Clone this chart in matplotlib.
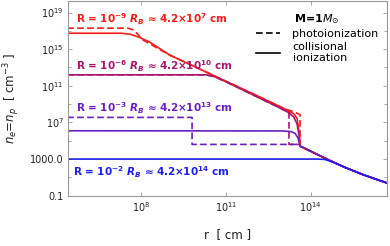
import numpy as np
import matplotlib.pyplot as plt
from matplotlib.lines import Line2D
from matplotlib.ticker import FixedLocator, FixedFormatter, NullFormatter

plt.rcParams['font.family'] = ['DejaVu Sans']
plt.rcParams['mathtext.fontset'] = 'custom'
plt.rcParams['mathtext.rm'] = 'DejaVu Sans'
plt.rcParams['mathtext.it'] = 'DejaVu Sans:italic'
plt.rcParams['mathtext.bf'] = 'DejaVu Sans:bold'
plt.rcParams['mathtext.bfit'] = 'DejaVu Sans:italic:bold'

# colours
c_red = '#f41c1c'
c_mag = '#a8166e'
c_pur = '#6a1fbf'
c_blu = '#1e1ef2'

# common outer tail (log10 r, log10 n)
tail_lr = [13.62, 14.0, 14.6, 15.2, 15.8, 16.3, 16.7]
tail_ln = [4.42, 3.85, 2.95, 2.1, 1.35, 0.8, 0.38]

# R = 1e-9
red_sol_lr = [5.4, 7.3, 7.6, 7.9, 8.3, 9.03, 10.0, 11.0, 12.21, 13.0, 13.4, 13.52, 13.6]
red_sol_ln = [16.74, 16.74, 16.65, 16.35, 15.8, 14.34, 12.95, 11.5, 9.76, 8.6, 7.95, 7.4, 5.6]
red_dash_lr = [5.4, 7.55, 7.75, 7.9, 8.05, 9.03, 10.0, 11.0, 12.21, 13.0, 13.48, 13.62, 13.62]
red_dash_ln = [17.29, 17.29, 17.1, 16.6, 16.05, 14.34, 12.95, 11.5, 9.76, 8.6, 8.05, 7.85, 4.42]

# R = 1e-6
mag_sol_lr = [5.4, 10.3, 10.6, 11.0, 12.0, 12.8, 13.2, 13.4, 13.52, 13.6]
mag_sol_ln = [12.2, 12.2, 12.0, 11.45, 9.95, 8.75, 8.1, 7.6, 6.8, 5.3]
mag_dash_lr = [5.4, 10.3, 10.6, 11.0, 12.0, 12.8, 13.23, 13.23, 13.62]
mag_dash_ln = [12.2, 12.2, 12.0, 11.45, 9.95, 8.75, 8.15, 4.6, 4.6]

# R = 1e-3
pur_sol_lr = [5.4, 13.0, 13.3, 13.45, 13.55]
pur_sol_ln = [6.09, 6.07, 6.0, 5.8, 5.3]
pur_dash_lr = [5.4, 9.81, 9.81, 13.62]
pur_dash_ln = [7.55, 7.55, 4.6, 4.6]

# R = 1e-2
blu_lr = [5.4, 14.2, 14.5, 14.8, 15.2, 15.8, 16.3, 16.7]
blu_ln = [3.0, 3.0, 2.96, 2.63, 2.1, 1.35, 0.8, 0.38]

xticks = [1e8, 1e11, 1e14]
xlabels = ['$10^{8}$', '$10^{11}$', '$10^{14}$']
yticks = [1e-1, 1e3, 1e7, 1e11, 1e15, 1e19]
ylabels = ['0.1', '1000.0', '$10^{7}$', '$10^{11}$', '$10^{15}$', '$10^{19}$']


def p(lr, ln):
    return 10.0 ** np.array(lr), 10.0 ** np.array(ln)


fig = plt.figure(figsize=(3.9, 2.46), dpi=100)
ax = fig.add_axes([68 / 390, 1 - 195.7 / 246, 318.7 / 390, 194.7 / 246])

lw = 1.2
ds = (4, 2)
for lr, ln, col in [(red_sol_lr + tail_lr, red_sol_ln + tail_ln, c_red),
                    (mag_sol_lr + tail_lr, mag_sol_ln + tail_ln, c_mag),
                    (pur_sol_lr + tail_lr, pur_sol_ln + tail_ln, c_pur)]:
    ax.plot(*p(lr, ln), color=col, lw=lw)
for lr, ln, col in [(red_dash_lr + tail_lr, red_dash_ln + tail_ln, c_red),
                    (mag_dash_lr + tail_lr, mag_dash_ln + tail_ln, c_mag),
                    (pur_dash_lr + tail_lr, pur_dash_ln + tail_ln, c_pur)]:
    ax.plot(*p(lr, ln), color=col, lw=lw, ls=(0, ds))
ax.plot(*p(blu_lr, blu_ln), color=c_blu, lw=lw)

ax.set_xscale('log')
ax.set_yscale('log')
ax.set_xlim(10 ** 5.43, 10 ** 16.68)
ax.set_ylim(0.1, 10 ** 20.26)

ax.xaxis.set_major_locator(FixedLocator(xticks))
ax.xaxis.set_major_formatter(FixedFormatter(xlabels))
ax.xaxis.set_minor_locator(FixedLocator([]))
ax.yaxis.set_major_locator(FixedLocator(yticks))
ax.yaxis.set_major_formatter(FixedFormatter(ylabels))
ax.yaxis.set_minor_locator(FixedLocator([10.0 ** k for k in range(1, 21, 4)]))
ax.yaxis.set_minor_formatter(NullFormatter())
ax.tick_params(which='both', direction='in', top=True, right=True,
               color='#999999', labelsize=7, pad=3, labelcolor='#222222')
ax.tick_params(which='major', length=3, width=0.6)
ax.tick_params(which='minor', length=2, width=0.6)
for s in ax.spines.values():
    s.set_color('#999999')
    s.set_linewidth(0.8)

ax.set_xlabel('r  [ cm ]', fontsize=8.5, labelpad=10, color='#222222')
ax.set_ylabel('$n_e$=$n_p$  [ cm$^{-3}$ ]', fontsize=8.5, labelpad=6, color='#222222')

tfs = 7.5
ax.text(0.025, 0.907, r'R = $\mathbf{10^{-9}}$ $\mathbfit{R_B}$ ≈ 4.2×$\mathbf{10^{7}}$ cm',
        transform=ax.transAxes, color=c_red, fontsize=tfs, fontweight='bold', va='center')
ax.text(0.025, 0.666, r'R = $\mathbf{10^{-6}}$ $\mathbfit{R_B}$ ≈ 4.2×$\mathbf{10^{10}}$ cm',
        transform=ax.transAxes, color=c_mag, fontsize=tfs, fontweight='bold', va='center')
ax.text(0.025, 0.45, r'R = $\mathbf{10^{-3}}$ $\mathbfit{R_B}$ ≈ 4.2×$\mathbf{10^{13}}$ cm',
        transform=ax.transAxes, color=c_pur, fontsize=tfs, fontweight='bold', va='center')
ax.text(0.016, 0.122, r'R = $\mathbf{10^{-2}}$ $\mathbfit{R_B}$ ≈ 4.2×$\mathbf{10^{14}}$ cm',
        transform=ax.transAxes, color=c_blu, fontsize=tfs, fontweight='bold', va='center')

handles = [Line2D([], [], color='black', lw=lw, ls=(0, ds)),
           Line2D([], [], color='black', lw=lw)]
leg = ax.legend(handles, ['photoionization', 'collisional\nionization'],
                title='M=1$M_{\\odot}$', frameon=False, loc='upper right',
                bbox_to_anchor=(0.995, 0.975),
                fontsize=8, title_fontsize=8, handlelength=2.2,
                handletextpad=1.1, labelspacing=0.25, borderaxespad=0.2)
for t in leg.get_texts():
    t.set_multialignment('center')
leg.get_title().set_fontweight('bold')

fig.savefig('out.png', dpi=100)
